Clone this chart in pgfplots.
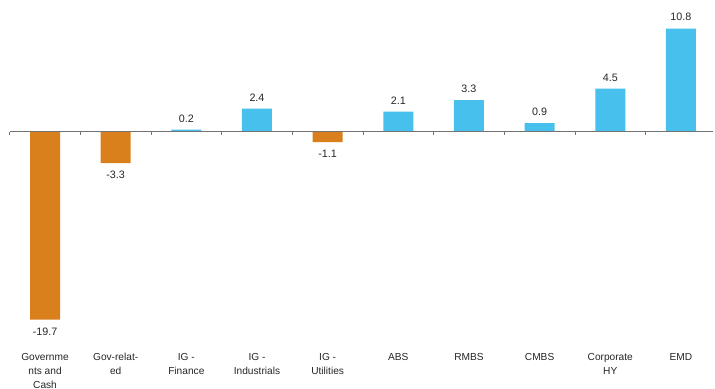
\documentclass[border=0pt]{standalone}
\usepackage{pgfplots}
\pgfplotsset{compat=1.18}
\usepackage{fontspec}
\setmainfont{Liberation Sans}
\definecolor{negc}{RGB}{217,127,28}
\definecolor{posc}{RGB}{72,192,238}
\definecolor{axc}{RGB}{115,115,115}
\begin{document}
\begin{tikzpicture}
\useasboundingbox (0,0) rectangle (715bp,389bp);
\begin{axis}[
  at={(9.7bp,49.4bp)}, anchor=south west,
  scale only axis, width=703bp, height=339.6bp,
  xmin=-0.5, xmax=9.45, ymin=-21.8, ymax=13.8,
  axis line style={draw=none},
  ytick=\empty,
  xtick={0,...,9},
  xticklabels={{Governme\\nts and\\Cash},{Gov-relat-\\ed},{IG -\\Finance},{IG -\\Industrials},{IG -\\Utilities},{ABS},{RMBS},{CMBS},{Corporate\\HY},{EMD}},
  major tick length=0pt,
  xticklabel style={align=center, anchor=north, yshift=-10bp, font=\fontsize{10.2}{14}\selectfont, text=black!85},
  ybar, bar width=30bp,
  nodes near coords,
  every node near coord/.append style={font=\fontsize{10.8}{12}\selectfont, text=black!85},
  /pgf/number format/fixed, /pgf/number format/fixed zerofill, /pgf/number format/precision=1,
  /pgf/number format/assume math mode=true,
  clip=false,
]
\addplot[bar shift=0pt, fill=negc, draw=none, nodes near coords align={below}, every node near coord/.append style={yshift=-4.5bp}] coordinates {(0,-19.7) (1,-3.3) (4,-1.1)};
\addplot[bar shift=0pt, fill=posc, draw=none, nodes near coords align={above}, every node near coord/.append style={yshift=4bp}] coordinates {(2,0.2) (3,2.4) (5,2.1) (6,3.3) (7,0.9) (8,4.5) (9,10.8)};
\draw[axc, line width=1.3bp] (axis cs:-0.5,0) -- (axis cs:9.45,0);
\pgfplotsinvokeforeach{-0.5,0.5,...,9.5}{\draw[axc, line width=0.8bp] (axis cs:#1,0) -- ([yshift=-3.5bp]axis cs:#1,0);}
\end{axis}
\end{tikzpicture}
\end{document}
